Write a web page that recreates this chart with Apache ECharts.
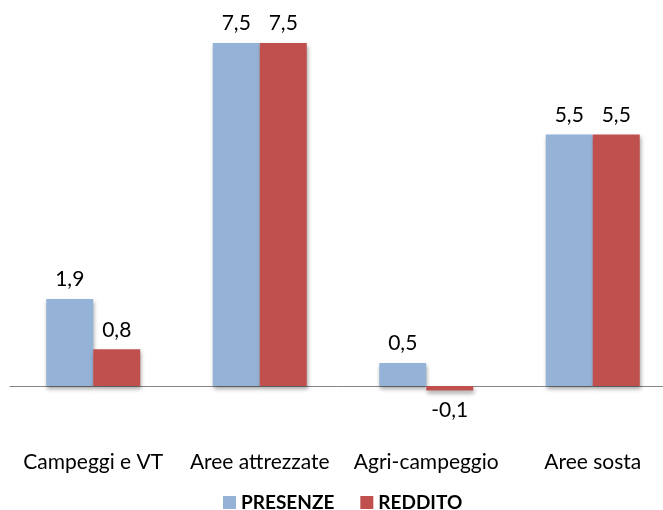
<!DOCTYPE html>
<html><head><meta charset="utf-8">
<script src="https://cdn.jsdelivr.net/npm/echarts@6/dist/echarts.min.js"></script>
<style>html,body{margin:0;padding:0;background:#fff}#c{width:663px;height:510px}</style>
</head><body><div id="c"></div>
<script>
const categories = ['Campeggi e VT', 'Aree attrezzate', 'Agri-campeggio', 'Aree sosta'];
const presenze = [1.9, 7.5, 0.5, 5.5];
const reddito = [0.8, 7.5, -0.1, 5.5];
const seriesNames = ['PRESENZE', 'REDDITO'];
const FONT = 'Lato';
const fmt = p => String(p.value).replace('.', ',');
const chart = echarts.init(document.getElementById('c'));
const barStyle = c => ({color: c, shadowBlur: 4, shadowColor: 'rgba(0,0,0,0.35)', shadowOffsetX: 1, shadowOffsetY: 3});
const lbl = {show: true, position: 'top', distance: 9, formatter: fmt, color: '#000', fontFamily: FONT, fontSize: 21};
chart.setOption({
  animation: false,
  grid: {left: 10, width: 666, top: 20.1, height: 388.7, outerBoundsMode: 'none', containLabel: false},
  legend: {
    data: seriesNames, top: 488, left: 218, padding: 5, itemWidth: 13, itemHeight: 13, itemGap: 26,
    icon: 'rect',
    textStyle: {fontFamily: FONT, fontSize: 19, fontWeight: 'bold', color: '#000'}
  },
  xAxis: {
    type: 'category', data: categories,
    axisLine: {lineStyle: {color: '#868686', width: 1}},
    axisTick: {show: false},
    axisLabel: {margin: 43, color: '#000', fontFamily: FONT, fontSize: 21, interval: 0}
  },
  yAxis: {type: 'value', min: -0.5, max: 8, show: false, splitLine: {show: false}},
  series: [
    {name: seriesNames[0], type: 'bar', data: presenze, barWidth: 47, barGap: '0%',
     itemStyle: barStyle('#95B3D7'), label: lbl},
    {name: seriesNames[1], type: 'bar', data: reddito.map(v => v < 0 ? {value: v, label: {position: 'bottom'}} : v), barWidth: 47,
     itemStyle: barStyle('#C0504D'), label: lbl}
  ]
});
</script></body></html>
